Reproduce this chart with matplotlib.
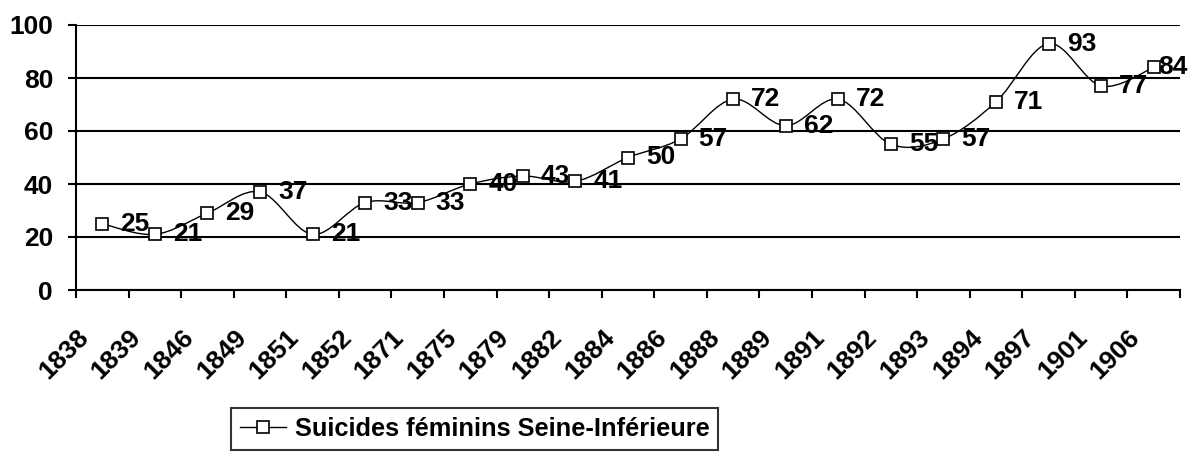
import numpy as np
import matplotlib
matplotlib.use("Agg")
import matplotlib.pyplot as plt
from matplotlib.path import Path
from matplotlib.patches import PathPatch
from matplotlib.lines import Line2D
import matplotlib.transforms as mtrans

years = ['1838', '1839', '1846', '1849', '1851', '1852', '1871', '1875', '1879', '1882',
         '1884', '1886', '1888', '1889', '1891', '1892', '1893', '1894', '1897', '1901', '1906']
suicides = [25, 21, 29, 37, 21, 33, 33, 40, 43, 41, 50, 57, 72, 62, 72, 55, 57, 71, 93, 77, 84]
yticks = [0, 20, 40, 60, 80, 100]
series_name = 'Suicides féminins Seine-Inférieure'

plt.rcParams['font.family'] = ['Liberation Sans', 'DejaVu Sans']
plt.rcParams['font.weight'] = 'bold'
FS = 19

fig = plt.figure(figsize=(11.94, 4.55), dpi=100)
ax = fig.add_axes([76/1194, 1-290/455, (1180-76)/1194, (290-25)/455])

n = len(suicides)
x = np.arange(n)
y = np.array(suicides, dtype=float)

# smoothed line like excel (cubic bezier through the points)
pts = np.column_stack([x, y])
verts = [pts[0]]
codes = [Path.MOVETO]
for i in range(n - 1):
    p0 = pts[max(i - 1, 0)]
    p1 = pts[i]
    p2 = pts[i + 1]
    p3 = pts[min(i + 2, n - 1)]
    c1 = p1 + (p2 - p0) / 6
    c2 = p2 - (p3 - p1) / 6
    verts += [c1, c2, p2]
    codes += [Path.CURVE4] * 3
ax.add_patch(PathPatch(Path(verts, codes), fill=False, edgecolor='black', lw=1.0, zorder=3))
ax.plot(x, y, ls='none', marker='s', ms=8.8, mfc='white', mec='black', mew=1.2, zorder=4)

for i, v in enumerate(suicides):
    dx = 13 if i < n - 1 else 3
    ax.annotate(str(v), (i, v), xytext=(dx, 0), textcoords='offset points',
                ha='left', va='center', fontsize=FS, fontweight='bold', zorder=5)

ax.set_xlim(-0.5, n - 0.5)
ax.set_ylim(0, 100)
ax.set_yticks(yticks)
ax.yaxis.grid(True, color='black', lw=1.5)
ax.set_axisbelow(True)
for s in ['top', 'right']:
    ax.spines[s].set_visible(False)
for s in ['left', 'bottom']:
    ax.spines[s].set_linewidth(1.5)

ax.tick_params(axis='y', direction='out', length=6, width=1.5, pad=10.5, labelsize=FS)
ax.set_xticks(np.arange(n + 1) - 0.5)
ax.set_xticklabels([])
ax.tick_params(axis='x', which='major', direction='out', length=6, width=1.5)
ax.set_xticks(x, minor=True)
ax.set_xticklabels(years, minor=True, rotation=45, ha='right', fontsize=FS, fontweight='bold')
ax.tick_params(axis='x', which='minor', length=0, pad=25)
shift = mtrans.ScaledTranslation(-9/100, 0, fig.dpi_scale_trans)
for lab in ax.xaxis.get_minorticklabels():
    lab.set_transform(lab.get_transform() + shift)

handle = Line2D([], [], color='black', lw=1.0, marker='s', ms=8.8, mfc='white', mec='black', mew=1.2)
leg = fig.legend([handle], [series_name], loc='upper left', bbox_to_anchor=(231/1194, 1-408/455),
                 frameon=True, fancybox=False, edgecolor='black', borderpad=0.35,
                 handlelength=1.8, handletextpad=0.35, borderaxespad=0,
                 prop={'size': 18.3, 'weight': 'bold'})
leg.get_frame().set_linewidth(1.5)

fig.savefig('out.png', dpi=100)
